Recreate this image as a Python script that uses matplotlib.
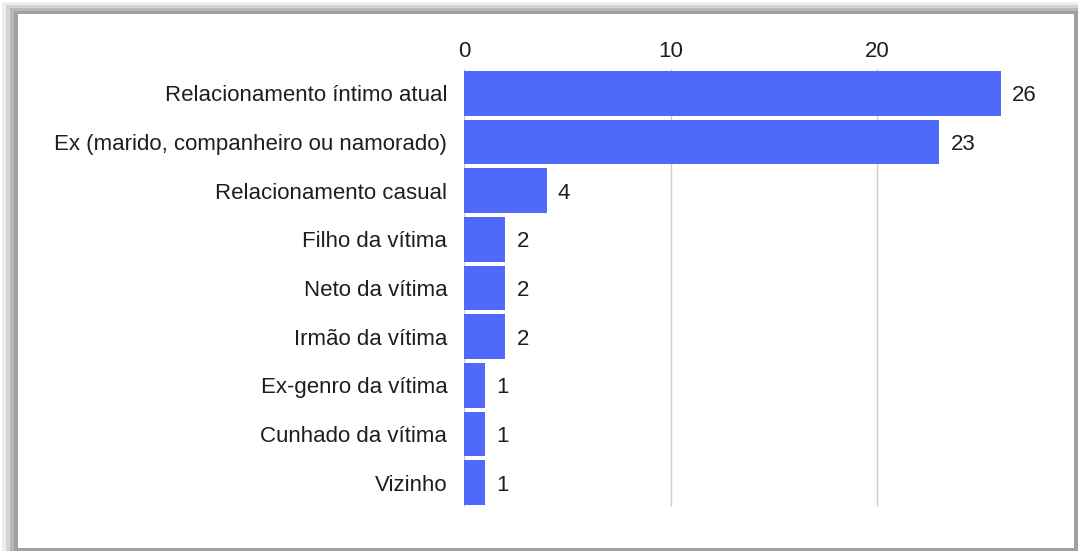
import numpy as np
import matplotlib
matplotlib.use("Agg")
import matplotlib.pyplot as plt
from matplotlib.patches import Rectangle

# ---- data ----
categories = [
    "Relacionamento íntimo atual",
    "Ex (marido, companheiro ou namorado)",
    "Relacionamento casual",
    "Filho da vítima",
    "Neto da vítima",
    "Irmão da vítima",
    "Ex-genro da vítima",
    "Cunhado da vítima",
    "Vizinho",
]
counts = [26, 23, 4, 2, 2, 2, 1, 1, 1]
x_ticks = [0, 10, 20]

BAR_COLOR = "#4f69fa"
TEXT_COLOR = "#1e1e1e"
W, H = 1078, 551

plt.rcParams["font.family"] = ["Liberation Sans", "DejaVu Sans"]

fig = plt.figure(figsize=(W / 100, H / 100), dpi=100)
fig.patch.set_facecolor("white")

# ---- frame with shadow (left/top gradient, thin right/bottom line) ----
def px_rect(x0, y0, x1, y1, color):
    fig.patches.append(Rectangle((x0 / W, 1 - y1 / H), (x1 - x0) / W, (y1 - y0) / H,
                                 transform=fig.transFigure, facecolor=color,
                                 edgecolor="none", zorder=0))

shades = ["#eeeeee", "#d4d4d4", "#b8b8b8", "#a0a0a0"]
for i, c in enumerate(shades):
    px_rect(2 + 4 * i, 2 + 3 * i, 6 + 4 * i, H, c)      # left band
    px_rect(2 + 4 * i, 2 + 3 * i, W, 5 + 3 * i, c)      # top band
px_rect(1074, 13, W, H, "#a0a0a0")
px_rect(18, 548, W, H, "#a0a0a0")

# ---- axes ----
left, right = 464 / W, 1001 / W
top, bottom = 1 - 69 / H, 1 - 507 / H
ax = fig.add_axes([left, bottom, right - left, top - bottom])
ax.set_facecolor("none")

y = np.arange(len(categories))
ax.barh(y, counts, height=0.92, color=BAR_COLOR, zorder=3)

ax.set_xlim(0, 26)
ax.set_ylim(len(categories) - 0.5, -0.5)
ax.set_yticks(y)
ax.set_yticklabels(categories)
ax.set_xticks(x_ticks)
ax.xaxis.tick_top()
ax.tick_params(axis="both", length=0, labelsize=16, colors=TEXT_COLOR)
ax.tick_params(axis="y", pad=12)
ax.tick_params(axis="x", pad=5)
ax.grid(axis="x", color="#d0d0d0", linewidth=1, zorder=0)
for s in ax.spines.values():
    s.set_visible(False)
for lbl in ax.get_yticklabels():
    lbl.set_va("center_baseline")

for yi, v in zip(y, counts):
    ax.text(v + 0.55, yi, str(v), va="center_baseline", ha="left",
            fontsize=16, color=TEXT_COLOR)

fig.savefig("out.png", dpi=100)
